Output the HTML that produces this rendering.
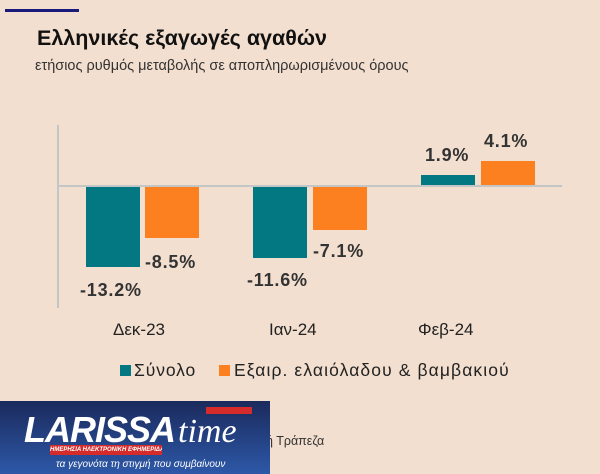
<!DOCTYPE html>
<html><head><meta charset="utf-8"><style>
body{margin:0;width:600px;height:474px;background:#f3dfcf;font-family:"Liberation Sans","DejaVu Sans",sans-serif;position:relative;overflow:hidden;color:#222}
.a{position:absolute}
.b{position:absolute}
.t{background:#047882}.o{background:#fd8020}
.l{position:absolute;font-size:17px;color:#222;white-space:nowrap}
.v{font-weight:bold;font-size:18px;color:#333;letter-spacing:.8px}
</style></head><body>
<div class="a" style="left:5px;top:9px;width:74px;height:3px;background:#1a1a7a"></div>
<div class="a" style="left:37px;top:26px;font-size:21.5px;font-weight:bold;color:#111">Ελληνικές εξαγωγές αγαθών</div>
<div class="a" style="left:35px;top:58px;font-size:14.5px;color:#333">ετήσιος ρυθμός μεταβολής σε αποπληρωρισμένους όρους</div>
<div class="a" style="left:57px;top:125px;width:2px;height:183px;background:#c3c6c6"></div>
<div class="a" style="left:58px;top:185px;width:504px;height:2px;background:#c3c6c6"></div>
<div class="b t" style="left:86px;top:187px;width:54px;height:80px"></div>
<div class="b o" style="left:145px;top:187px;width:54px;height:51px"></div>
<div class="b t" style="left:253px;top:187px;width:54px;height:71px"></div>
<div class="b o" style="left:313px;top:187px;width:54px;height:43px"></div>
<div class="b t" style="left:421px;top:175px;width:54px;height:10px"></div>
<div class="b o" style="left:481px;top:161px;width:54px;height:24px"></div>
<div class="l v" style="left:80px;top:280px">-13.2%</div>
<div class="l v" style="left:145px;top:252px">-8.5%</div>
<div class="l v" style="left:247px;top:270px">-11.6%</div>
<div class="l v" style="left:313px;top:241px">-7.1%</div>
<div class="l v" style="left:425px;top:145px">1.9%</div>
<div class="l v" style="left:484px;top:131px">4.1%</div>
<div class="l" style="left:113px;top:320px">Δεκ-23</div>
<div class="l" style="left:269px;top:320px">Ιαν-24</div>
<div class="l" style="left:418px;top:320px">Φεβ-24</div>
<div class="a t" style="left:120px;top:365px;width:11px;height:11px"></div>
<div class="l" style="left:134px;top:360px;font-size:17.5px;letter-spacing:.9px">Σύνολο</div>
<div class="a o" style="left:219px;top:365px;width:11px;height:11px"></div>
<div class="l" style="left:234px;top:360px;font-size:17.5px;letter-spacing:1.1px">Εξαιρ. ελαιόλαδου &amp; βαμβακιού</div>
<div class="a" style="left:266px;top:434px;font-size:12.5px;color:#333">ή Τράπεζα</div>
<div class="a" style="left:0;top:401px;width:270px;height:73px;background:linear-gradient(#1b2a5c,#2d58a8)">
<div class="a" style="left:24px;top:8px;font-size:36px;font-weight:bold;font-style:italic;color:#fff;letter-spacing:-1px">LARISSA</div>
<div class="a" style="left:178px;top:12px;font-size:34px;font-style:italic;font-family:'Liberation Serif',serif;color:#fff">time</div>
<div class="a" style="left:206px;top:6px;width:46px;height:7px;background:#d52b2b"></div>
<div class="a" style="left:50px;top:44px;width:112px;height:10px;background:#d52b2b;font-size:6px;color:#fff;font-weight:bold;font-style:italic;text-align:center;line-height:10px;white-space:nowrap;overflow:hidden">ΗΜΕΡΗΣΙΑ ΗΛΕΚΤΡΟΝΙΚΗ ΕΦΗΜΕΡΙΔΑ</div>
<div class="a" style="left:56px;top:58px;font-size:10px;font-style:italic;color:#fff">τα γεγονότα τη στιγμή που συμβαίνουν</div>
</div>
</body></html>
